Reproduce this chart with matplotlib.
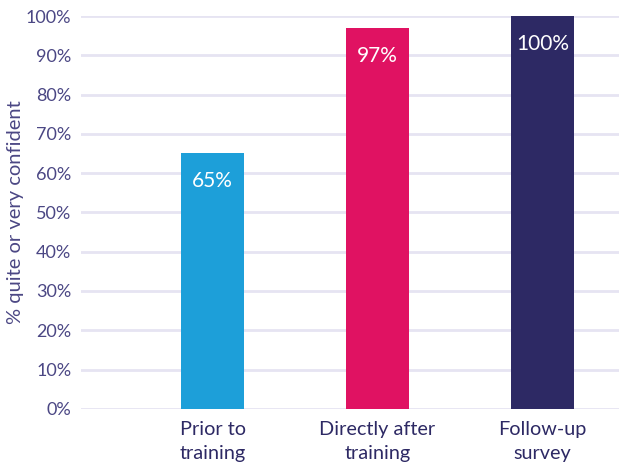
import matplotlib.pyplot as plt

# data
categories = ["Prior to\ntraining", "Directly after\ntraining", "Follow-up\nsurvey"]
values = [65, 97, 100]
colors = ["#1D9FD9", "#E01262", "#2D2964"]
yticks = [0, 10, 20, 30, 40, 50, 60, 70, 80, 90, 100]

plt.rcParams['font.family'] = ['Lato', 'DejaVu Sans']

fig = plt.figure(figsize=(6.19, 4.71), dpi=100)
ax = fig.add_axes([0.131, 0.132, 0.869, 0.834])

x = list(range(len(categories)))
bars = ax.bar(x, values, width=0.38, color=colors, zorder=3)

# value labels inside the bars
for xi, v in zip(x, values):
    ax.annotate(f"{v}%", (xi, v), xytext=(0, -20), textcoords="offset points",
                ha="center", va="center", color="white", fontsize=15, zorder=4)

ax.set_xlim(-0.797, 2.464)
ax.set_ylim(0, 100)
ax.set_yticks(yticks)
ax.set_yticklabels([f"{t}%" for t in yticks])
ax.set_xticks(x)
ax.set_xticklabels(categories, fontsize=14.3, color="#2D2964", linespacing=1.45)

ax.yaxis.grid(True, color="#E6E4F2", linewidth=2, zorder=0)
ax.tick_params(axis="y", length=0, pad=7, labelsize=13, labelcolor="#4B4784")
ax.tick_params(axis="x", length=0, pad=9)
for s in ax.spines.values():
    s.set_visible(False)

ax.set_ylabel("% quite or very confident", fontsize=14.5, color="#4B4784", labelpad=1)

fig.savefig("out.png", dpi=100)
